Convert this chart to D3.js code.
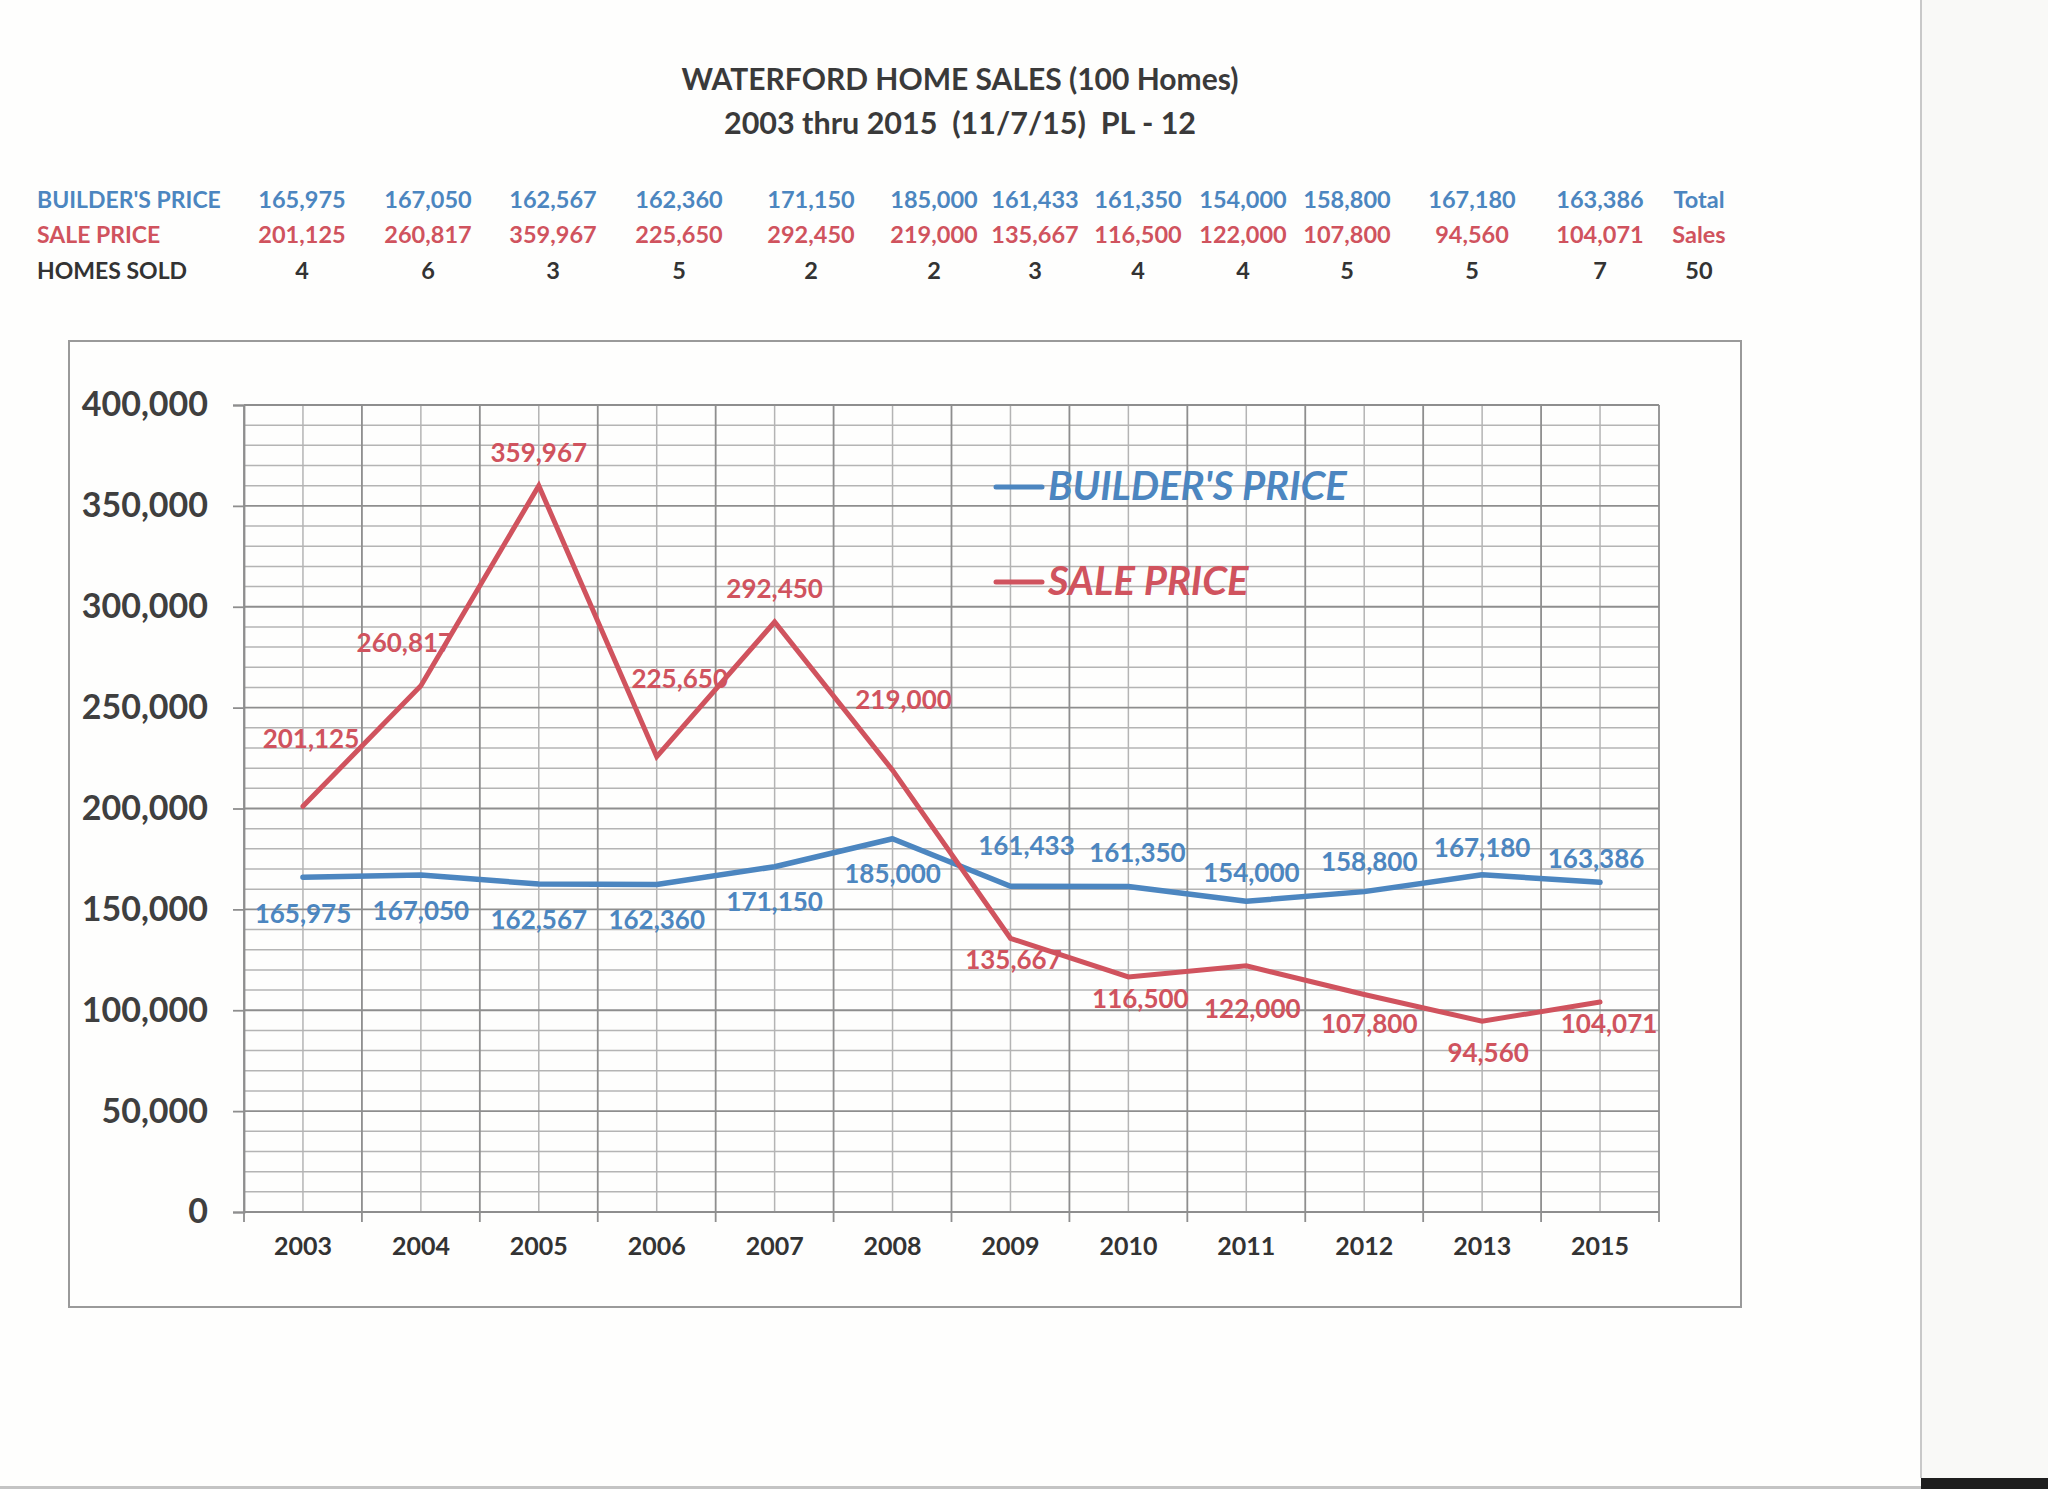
<!DOCTYPE html>
<html>
<head>
<meta charset="utf-8">
<script src="https://cdn.jsdelivr.net/npm/d3@7/dist/d3.min.js"></script>
<style>
  html, body { margin: 0; padding: 0; background: #ffffff; }
  svg { display: block; }
  text { font-family: Lato, "Open Sans", "DejaVu Sans", sans-serif; white-space: pre; }
</style>
</head>
<body>
<svg id="chart" width="2048" height="1489"></svg>
<script>
// ---------------- DATA ----------------
const years = ["2003","2004","2005","2006","2007","2008","2009","2010","2011","2012","2013","2015"];
const builderPrice = [165975,167050,162567,162360,171150,185000,161433,161350,154000,158800,167180,163386];
const salePrice = [201125,260817,359967,225650,292450,219000,135667,116500,122000,107800,94560,104071];
const homesSold = [4,6,3,5,2,2,3,4,4,5,5,7];
const yTicks = [0,50000,100000,150000,200000,250000,300000,350000,400000];
const titleLines = ["WATERFORD HOME SALES (100 Homes)", "2003 thru 2015  (11/7/15)  PL - 12"];
const rowLabels = ["BUILDER'S PRICE", "SALE PRICE", "HOMES SOLD"];
const rowTail = ["Total", "Sales"];
const seriesNames = ["BUILDER'S PRICE", "SALE PRICE"];

// ---------------- LAYOUT / STYLE ----------------
const BLUE = "#4c86c0", RED = "#d0535e", DARK = "#333333";
const tableColX = [302,428,553,679,811,934,1035,1138,1243,1347,1472,1600,1699];
const tableRowY = [199,234,270];
const builderLabelOffset = [[0,36],[0,35],[0,35],[0,35],[0,34],[0,34],[16,-41],[9,-34],[5,-29],[5,-31],[0,-28],[-4,-24]];
const saleLabelOffset = [[8,-68],[-16,-44],[0,-34],[23,-79],[0,-34],[11,-71],[3,21],[12,21],[6,42],[5,28],[6,31],[9,21]];

const svg = d3.select("#chart");

// page / scan edge
svg.append("rect").attr("x",0).attr("y",0).attr("width",2048).attr("height",1489).attr("fill","#fefefd");
svg.append("rect").attr("x",1921).attr("y",0).attr("width",127).attr("height",1489).attr("fill","#f9f9f7");
svg.append("line").attr("x1",1921).attr("x2",1921).attr("y1",0).attr("y2",1478).attr("stroke","#c9c9c9").attr("stroke-width",2);
svg.append("rect").attr("x",1921).attr("y",1478).attr("width",127).attr("height",11).attr("fill","#1e1e1e");
svg.append("rect").attr("x",0).attr("y",1486).attr("width",1921).attr("height",3).attr("fill","#c4c4c4");

// titles
svg.selectAll("text.title").data(titleLines).join("text")
  .attr("class","title")
  .attr("x",960).attr("y",(d,i)=> i===0 ? 78 : 122)
  .attr("text-anchor","middle").attr("dominant-baseline","central")
  .attr("font-size",(d,i)=> i===0 ? 30 : 30.5).attr("font-weight",700).attr("fill","#3a3a3a")
  .text(d=>d);

// table
const rowColors = [BLUE, RED, DARK];
const rowValues = [
  builderPrice.map(d3.format(",")),
  salePrice.map(d3.format(",")),
  homesSold.map(String)
];
rowValues[0].push(rowTail[0]);
rowValues[1].push(rowTail[1]);
rowValues[2].push(String(d3.sum(homesSold)));

const tbl = svg.append("g").attr("font-size",23.5).attr("font-weight",700);
rowLabels.forEach((lab,r)=>{
  tbl.append("text").attr("x",37).attr("y",tableRowY[r])
    .attr("dominant-baseline","central").attr("fill",rowColors[r])
    .attr("font-size",23).text(lab);
  tbl.selectAll(null).data(rowValues[r]).join("text")
    .attr("x",(d,i)=>tableColX[i]).attr("y",tableRowY[r])
    .attr("text-anchor","middle").attr("dominant-baseline","central")
    .attr("fill",rowColors[r]).text(d=>d);
});

// chart frame
svg.append("rect").attr("x",69).attr("y",341).attr("width",1672).attr("height",966)
  .attr("fill","none").attr("stroke","#9a9a9a").attr("stroke-width",2);

// scales
const x = d3.scaleBand().domain(years).range([244,1659]).padding(0);
const y = d3.scaleLinear().domain([0,400000]).range([1212,405]);
const bw = x.bandwidth();
const cx = d => x(d) + bw/2;

// grid
const grid = svg.append("g");
const minor = d3.range(0,400001,10000).filter(v => !yTicks.includes(v));
grid.selectAll("line.hmin").data(minor).join("line")
  .attr("x1",244).attr("x2",1659).attr("y1",d=>y(d)).attr("y2",d=>y(d))
  .attr("stroke","#b4b4b4").attr("stroke-width",1.5);
grid.selectAll("line.vmid").data(years).join("line")
  .attr("x1",d=>cx(d)).attr("x2",d=>cx(d)).attr("y1",405).attr("y2",1212)
  .attr("stroke","#b4b4b4").attr("stroke-width",1.5);
const bounds = years.map(d=>x(d)).concat([x.range()[1]]);
grid.selectAll("line.vb").data(bounds).join("line")
  .attr("x1",d=>d).attr("x2",d=>d).attr("y1",405).attr("y2",1222)
  .attr("stroke","#8e8e8e").attr("stroke-width",1.8);
grid.selectAll("line.hmaj").data(yTicks).join("line")
  .attr("x1",244).attr("x2",1659).attr("y1",d=>y(d)).attr("y2",d=>y(d))
  .attr("stroke","#8e8e8e").attr("stroke-width",1.8);

// y axis
const yAxis = svg.append("g").attr("transform","translate(244,0)")
  .call(d3.axisLeft(y).tickValues(yTicks).tickSize(11).tickPadding(25).tickFormat(d3.format(",")));
yAxis.select(".domain").attr("stroke","#8e8e8e").attr("stroke-width",1.8);
yAxis.selectAll(".tick line").attr("stroke","#8e8e8e").attr("stroke-width",1.8);
yAxis.selectAll(".tick text").attr("font-family","Lato, sans-serif").attr("font-size",34)
  .attr("font-weight",700).attr("fill","#3f3f3f");

// x axis labels
const xAxis = svg.append("g").attr("transform","translate(0,1212)")
  .call(d3.axisBottom(x).tickSize(0).tickPadding(0));
xAxis.select(".domain").remove();
xAxis.selectAll(".tick text").attr("y",34).attr("dy","0.35em")
  .attr("font-family","Lato, sans-serif").attr("font-size",25)
  .attr("font-weight",700).attr("fill","#333");

// lines
const line = d3.line().x((d,i)=>cx(years[i])).y(d=>y(d));
svg.append("path").datum(builderPrice).attr("d",line)
  .attr("fill","none").attr("stroke",BLUE).attr("stroke-width",5.5).attr("stroke-linecap","round").attr("stroke-linejoin","round");
svg.append("path").datum(salePrice).attr("d",line)
  .attr("fill","none").attr("stroke",RED).attr("stroke-width",5).attr("stroke-linecap","round").attr("stroke-linejoin","miter");

// data labels
function labels(vals, offs, color){
  svg.append("g").selectAll("text").data(vals).join("text")
    .attr("x",(d,i)=>cx(years[i]) + offs[i][0])
    .attr("y",(d,i)=>y(d) + offs[i][1])
    .attr("text-anchor","middle").attr("dominant-baseline","central")
    .attr("font-size",26).attr("font-weight",700).attr("fill",color)
    .text(d=>d3.format(",")(d));
}
labels(builderPrice, builderLabelOffset, BLUE);
labels(salePrice, saleLabelOffset, RED);

// legend
const legColors = [BLUE, RED];
const legY = [485, 580];
const leg = svg.append("g");
seriesNames.forEach((name,i)=>{
  leg.append("line").attr("x1",996).attr("x2",1042).attr("y1",legY[i]+2).attr("y2",legY[i]+2)
    .attr("stroke",legColors[i]).attr("stroke-width",5).attr("stroke-linecap","round");
  leg.append("text").attr("x",1048).attr("y",legY[i]).attr("dominant-baseline","central")
    .attr("font-size",40).attr("font-weight",700).attr("font-style","italic")
    .attr("fill",legColors[i]).text(name);
});
</script>
</body>
</html>
